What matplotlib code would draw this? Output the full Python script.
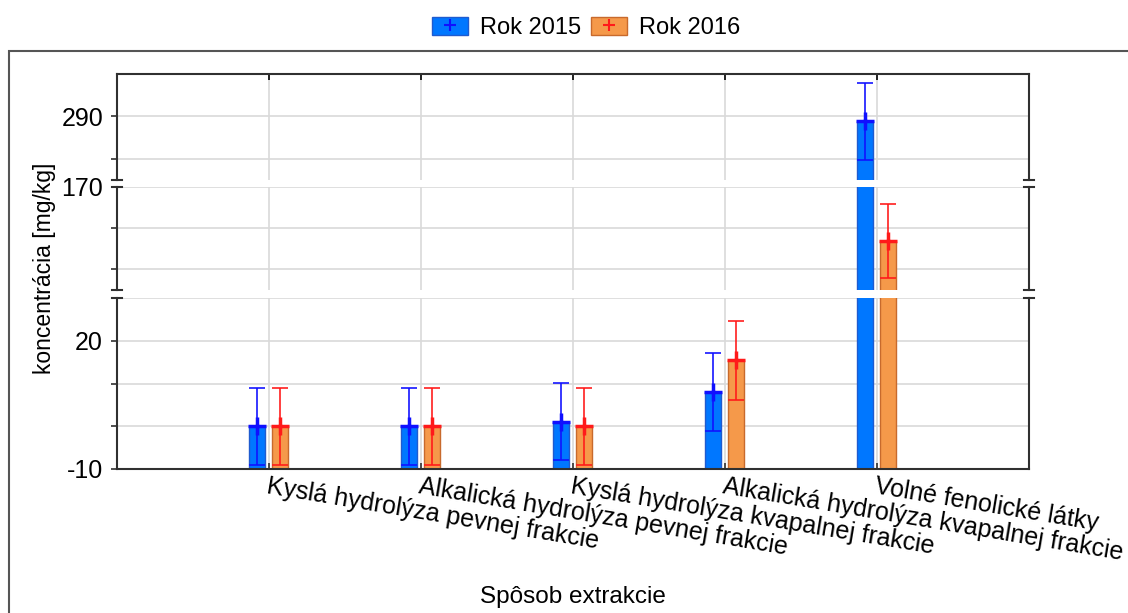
import numpy as np
import matplotlib
matplotlib.use("Agg")
import matplotlib.pyplot as plt
from matplotlib.patches import Patch, Rectangle
from matplotlib.lines import Line2D

plt.rcParams["font.family"] = ["Liberation Sans", "DejaVu Sans"]

# ---- data -------------------------------------------------------------
categories = [
    "Kyslá hydrolýza pevnej frakcie",
    "Alkalická hydrolýza pevnej frakcie",
    "Kyslá hydrolýza kvapalnej frakcie",
    "Alkalická hydrolýza kvapalnej frakcie",
    "Volné fenolické látky",
]
series_names = ["Rok 2015", "Rok 2016"]
values_2015 = [0.0, 0.0, 1.1, 8.0, 288.8]
values_2016 = [0.0, 0.0, 0.0, 15.4, 156.8]
err_2015 = [9.0, 9.0, 9.1, 9.1, 9.0]
err_2016 = [9.0, 9.0, 9.0, 9.2, 9.0]

# y ranges of the three pieces of the broken axis (top to bottom)
segments = [(275, 300), (145, 170), (-10, 30)]
tick_sets = [[280, 290], [150, 160, 170], [-10, 0, 10, 20, 30]]
labeled_ticks = [290, 170, 20, -10]

# ---- style ------------------------------------------------------------
fill_colors = ["#0077FF", "#F5994A"]
edge_colors = ["#1F5BCF", "#C86A2C"]
err_colors = ["#1010FF", "#FF1A1A"]
grid_color = "#D9D9D9"
spine_color = "#303030"

W, H = 1128, 613
fig = plt.figure(figsize=(W / 100, H / 100), dpi=100)

# outer frame line
fig.patches.append(Rectangle((9 / W, -0.02), 1.05, 1 - 51 / H + 0.02,
                             transform=fig.transFigure, fill=False,
                             edgecolor="#555555", linewidth=1.5))

left, right = 117 / W, 1029 / W
rows_px = [(74, 180), (187, 290), (298, 469)]
axes = []
for (top_px, bot_px) in rows_px:
    ax = fig.add_axes([left, 1 - bot_px / H, right - left, (bot_px - top_px) / H])
    axes.append(ax)

x = np.arange(1, len(categories) + 1)
bar_w = 0.105
offsets = [-0.078, 0.072]
all_vals = [values_2015, values_2016]
all_errs = [err_2015, err_2016]
base = segments[-1][0]

for i, ax in enumerate(axes):
    lo, hi = segments[i]
    ax.set_xlim(0, 6)
    ax.set_ylim(lo, hi)
    ax.set_axisbelow(True)
    for s in range(2):
        vals = np.array(all_vals[s])
        ax.bar(x + offsets[s], vals - base, bottom=base, width=bar_w,
               color=fill_colors[s], edgecolor=edge_colors[s], linewidth=1.0,
               zorder=2)
        ax.errorbar(x + offsets[s], vals, yerr=all_errs[s], fmt="none",
                    ecolor=err_colors[s], elinewidth=1.3, capsize=6.0,
                    capthick=1.3, zorder=3, alpha=0.9)
        ax.plot(x + offsets[s], vals, linestyle="none", marker="+",
                markersize=13, markeredgewidth=2.5, color=err_colors[s],
                zorder=4)

    ax.set_yticks(tick_sets[i])
    ax.set_yticklabels([str(t) if t in labeled_ticks else "" for t in tick_sets[i]])
    ax.tick_params(axis="y", direction="out", length=4, width=1.2,
                   color=spine_color, labelsize=18, pad=6, right=False)
    ax.set_xticks(x)
    ax.grid(True, color=grid_color, linewidth=1.2)
    for name, sp in ax.spines.items():
        sp.set_color(spine_color)
        sp.set_linewidth(1.5)
    if i != 0:
        ax.spines["top"].set_visible(False)
    if i != len(axes) - 1:
        ax.spines["bottom"].set_visible(False)
        ax.tick_params(axis="x", bottom=False, labelbottom=False,
                       top=(i == 0), direction="in", length=4, width=1.2)

    # break marks on both side spines
    mark_dx = 5 / (W * (right - left))
    kw = dict(transform=ax.transAxes, color=spine_color, linewidth=1.5,
              clip_on=False, zorder=10)
    ends = []
    if i != 0:
        ends.append(1)
    if i != len(axes) - 1:
        ends.append(0)
    for yy in ends:
        for xx in (0, 1):
            ax.plot([xx - mark_dx, xx + mark_dx], [yy, yy], **kw)

bottom_ax = axes[-1]
bottom_ax.tick_params(axis="x", direction="in", length=4, width=1.2,
                      color=spine_color, pad=4)
bottom_ax.set_xticklabels(categories, rotation=-9.5, ha="left", va="top",
                          rotation_mode="anchor", fontsize=18)
bottom_ax.set_xlabel("Spôsob extrakcie", fontsize=17.5)
bottom_ax.xaxis.set_label_coords(0.5, -0.685)

fig.text(45 / W, 1 - 268 / H, "koncentrácia [mg/kg]", rotation=90,
         ha="center", va="center", fontsize=16.5)

handles = [
    (Patch(facecolor=fill_colors[s], edgecolor=edge_colors[s]),
     Line2D([], [], linestyle="none", marker="+", markersize=9,
            markeredgewidth=1.5, color=err_colors[s]))
    for s in range(2)
]
fig.legend(handles, series_names, loc="center", bbox_to_anchor=(586 / W, 1 - 28 / H),
           ncol=2, frameon=False, fontsize=17, handlelength=1.55,
           handleheight=0.8, handletextpad=0.5, columnspacing=0.4)

fig.savefig("out.png", dpi=100)
